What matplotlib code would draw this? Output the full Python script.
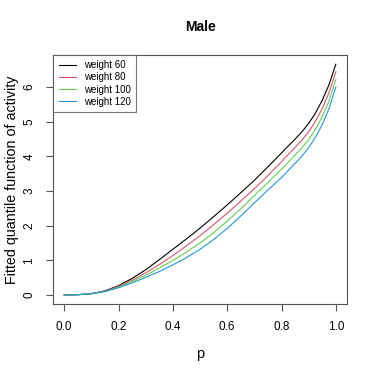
import matplotlib
matplotlib.use("Agg")
import matplotlib.pyplot as plt
import numpy as np

plt.rcParams['font.family'] = ['Liberation Sans', 'DejaVu Sans']

p = [0, 0.05, 0.1, 0.15, 0.2, 0.25, 0.3, 0.35, 0.4, 0.45, 0.5, 0.55, 0.6, 0.65,
     0.7, 0.75, 0.8, 0.85, 0.875, 0.9, 0.925, 0.95, 0.975, 1.0]
w60 = [0, 0.01, 0.04, 0.12, 0.27, 0.48, 0.73, 1.02, 1.32, 1.62, 1.93, 2.26, 2.6, 2.95,
       3.31, 3.7, 4.1, 4.5, 4.71, 4.95, 5.25, 5.62, 6.07, 6.66]
w80 = [0, 0.01, 0.04, 0.11, 0.25, 0.43, 0.64, 0.88, 1.14, 1.42, 1.71, 2.03, 2.36, 2.71,
       3.07, 3.45, 3.85, 4.26, 4.47, 4.71, 5.01, 5.38, 5.84, 6.44]
w100 = [0, 0.01, 0.04, 0.10, 0.23, 0.39, 0.57, 0.78, 1.0, 1.24, 1.5, 1.8, 2.13, 2.49,
        2.87, 3.25, 3.63, 4.04, 4.25, 4.48, 4.78, 5.15, 5.6, 6.22]
w120 = [0, 0.01, 0.04, 0.10, 0.21, 0.35, 0.51, 0.68, 0.87, 1.08, 1.32, 1.6, 1.92, 2.28,
        2.66, 3.03, 3.39, 3.8, 4.01, 4.25, 4.55, 4.92, 5.38, 6.0]
labels = ["weight 60", "weight 80", "weight 100", "weight 120"]
colors = ["#000000", "#DF536B", "#61D04F", "#2297E6"]

fig = plt.figure(figsize=(3.74, 3.74), dpi=100)
ax = fig.add_axes([0.1426, 0.1864, 0.7844, 0.6666])
for ys, lab, c in zip([w60, w80, w100, w120], labels, colors):
    ax.plot(p, ys, color=c, lw=0.8, label=lab)

ax.set_xlim(-0.04, 1.04)
ax.set_ylim(-0.2664, 6.926)
ax.set_xticks([0, 0.2, 0.4, 0.6, 0.8, 1.0])
ax.set_xticklabels(["0.0", "0.2", "0.4", "0.6", "0.8", "1.0"])
ax.set_yticks(range(0, 7))
for lbl in ax.get_yticklabels():
    lbl.set_rotation(90)
    lbl.set_va('center')
ax.tick_params(axis='x', labelsize=8.5, length=5, width=0.8, pad=7)
ax.tick_params(axis='y', labelsize=8.5, length=5, width=0.8, pad=8)
for s in ax.spines.values():
    s.set_linewidth(0.8)
    s.set_color('#555555')
ax.tick_params(color='#555555')

ax.set_xlabel("p", fontsize=10.5, labelpad=10)
ax.set_ylabel("Fitted quantile function of activity", fontsize=10.3, labelpad=3)
ax.set_title("Male", fontsize=10, fontweight='bold', pad=17)

leg = ax.legend(loc='upper left', fontsize=7, frameon=True, fancybox=False,
                borderaxespad=0, handlelength=1.75, handletextpad=0.85,
                labelspacing=0.22, borderpad=0.55)
leg.get_frame().set_edgecolor('#555555')
leg.get_frame().set_linewidth(0.8)

fig.savefig("out.png", dpi=100)
